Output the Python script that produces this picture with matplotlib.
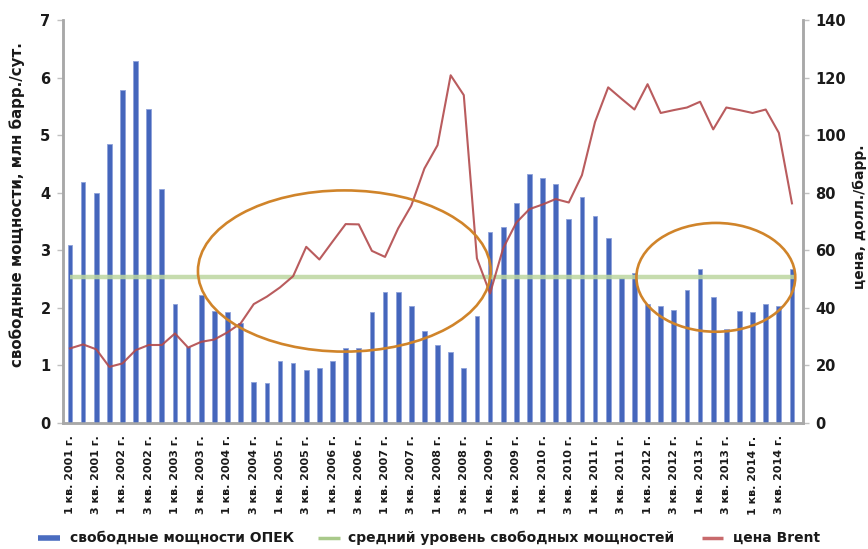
import matplotlib
matplotlib.use("Agg")
import matplotlib.pyplot as plt
from matplotlib.patches import Ellipse
from matplotlib.lines import Line2D
import numpy as np

plt.rcParams['font.family'] = ['DejaVu Sans']

# Quarterly data, 1 кв. 2001 – 4 кв. 2014
spare_capacity = [
    3.10, 4.18, 4.00, 4.84, 5.78, 6.28, 5.45, 4.06,   # 2001–2002
    2.06, 1.32, 2.23, 1.95, 1.92, 1.73, 0.72, 0.69,   # 2003–2004
    1.08, 1.04, 0.92, 0.95, 1.08, 1.31, 1.30, 1.92,   # 2005–2006
    2.28, 2.28, 2.03, 1.60, 1.35, 1.23, 0.96, 1.85,   # 2007–2008
    3.31, 3.40, 3.82, 4.32, 4.25, 4.15, 3.54, 3.92,   # 2009–2010
    3.60, 3.22, 2.52, 2.60, 2.07, 2.04, 1.96, 2.31,   # 2011–2012
    2.67, 2.19, 1.64, 1.95, 1.92, 2.07, 2.04, 2.67,   # 2013–2014
]
brent_price = [
    25.9, 27.3, 25.6, 19.5, 20.7, 25.3, 27.1, 27.1,
    31.1, 26.2, 28.2, 29.0, 31.5, 34.6, 41.3, 43.9,
    47.1, 51.0, 61.2, 56.8, 63.0, 69.1, 69.0, 59.8,
    57.7, 67.6, 75.5, 88.4, 96.5, 120.8, 113.9, 57.2,
    45.0, 60.7, 69.6, 74.3, 75.9, 77.8, 76.6, 86.1,
    104.6, 116.6, 112.7, 108.9, 117.7, 107.7, 108.7, 109.6,
    111.6, 102.0, 109.6, 108.7, 107.7, 108.9, 100.8, 76.3,
]
average_spare = 2.54
years = list(range(2001, 2015))
tick_labels = [f"{q} кв. {y} г." for y in years for q in (1, 3)]

W, H = 868, 549
fig = plt.figure(figsize=(W / 100, H / 100), dpi=100)
ax = fig.add_axes([63 / W, 1 - 423 / H, (803 - 63) / W, (423 - 20) / H])
ax2 = ax.twinx()

x = np.arange(len(spare_capacity))

ax.bar(x, spare_capacity, width=0.36, color="#4566bc",
       edgecolor="#8ea2da", linewidth=0.6, zorder=3)

# average spare capacity
ax.plot([x[0], x[-1] + 0.2], [average_spare, average_spare],
        color="#bcd6a0", lw=3.2, alpha=0.85, zorder=4, solid_capstyle="butt")

# Brent price
ax2.plot(x, brent_price, color="#b24a4c", lw=1.5, alpha=0.9, zorder=5)

ax.set_xlim(-0.53, 55.84)
ax.set_ylim(0, 7)
ax2.set_ylim(0, 140)

ax.set_xticks(x[::2])
ax.set_xticklabels(tick_labels, rotation=90, fontsize=8, fontweight="bold",
                   color="#1a1a1a")
ax.tick_params(axis="x", length=0, pad=9)
ax.set_yticks(range(0, 8))
ax.tick_params(axis="y", labelsize=10.5, length=4, width=1, color="#c0c0c0",
               pad=5, labelcolor="#1a1a1a")
for lbl in ax.get_yticklabels():
    lbl.set_fontweight("bold")
ax2.set_yticks(range(0, 141, 20))
ax2.tick_params(axis="y", labelsize=10.5, length=4, width=1, color="#c0c0c0",
                pad=5, labelcolor="#1a1a1a")
for lbl in ax2.get_yticklabels():
    lbl.set_fontweight("bold")

for a in (ax, ax2):
    a.spines["top"].set_visible(False)
    for s in ("left", "right", "bottom"):
        a.spines[s].set_color("#a8a8a8")
        a.spines[s].set_linewidth(1.8)
ax.patch.set_visible(False)

fig.text(17 / W, 1 - 205 / H, "свободные мощности, млн барр./сут.",
         rotation=90, ha="center", va="center", fontsize=10.8,
         fontweight="semibold", color="#1a1a1a")
fig.text(860 / W, 1 - 217 / H, "цена, долл./барр.",
         rotation=90, ha="center", va="center", fontsize=10,
         fontweight="semibold", color="#1a1a1a")

# highlighted periods
for cx, cy, w, h in [(20.9, 2.64, 22.3, 2.80), (49.2, 2.53, 12.1, 1.89)]:
    ax2.add_patch(Ellipse((cx, cy), w, h, transform=ax.transData,
                          fill=False, edgecolor="#d0842a", lw=1.9,
                          zorder=10, clip_on=False))

# legend row
def fx(px):
    return px / W

ly = 1 - 538 / H
legend_items = [
    (38, 60, "#4a6cc0", 4.0, 70, "свободные мощности ОПЕК"),
    (318, 340, "#a9c98a", 2.5, 348, "средний уровень свободных мощностей"),
    (702, 723, "#c86a6c", 2.5, 733, "цена Brent"),
]
for x0, x1, col, lw, tx, text in legend_items:
    fig.add_artist(Line2D([fx(x0), fx(x1)], [ly, ly], color=col, lw=lw,
                          transform=fig.transFigure, solid_capstyle="butt"))
    fig.text(fx(tx), ly, text, ha="left", va="center", fontsize=10,
             fontweight="bold", color="#1a1a1a")

fig.savefig("out.png", dpi=100)
